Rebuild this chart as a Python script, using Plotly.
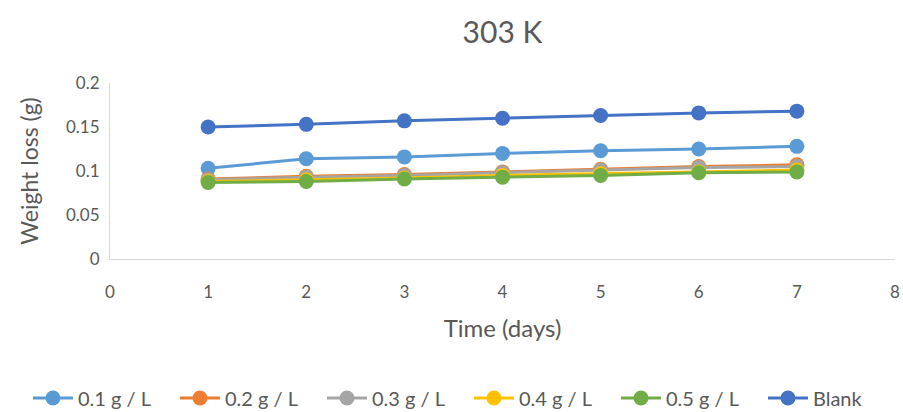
import plotly.graph_objects as go

days = [1, 2, 3, 4, 5, 6, 7]
series_names = ["0.1 g / L", "0.2 g / L", "0.3 g / L", "0.4 g / L", "0.5 g / L", "Blank"]
loss_01 = [0.103, 0.114, 0.116, 0.120, 0.123, 0.125, 0.128]
loss_02 = [0.091, 0.094, 0.096, 0.099, 0.102, 0.105, 0.107]
loss_03 = [0.090, 0.093, 0.095, 0.098, 0.101, 0.104, 0.105]
loss_04 = [0.088, 0.090, 0.092, 0.095, 0.097, 0.099, 0.101]
loss_05 = [0.087, 0.088, 0.091, 0.093, 0.095, 0.098, 0.099]
loss_blank = [0.150, 0.153, 0.157, 0.160, 0.163, 0.166, 0.168]
colors = ["#5B9BD5", "#ED7D31", "#A5A5A5", "#FFC000", "#70AD47", "#4472C4"]

y_ticks = [0, 0.05, 0.1, 0.15, 0.2]
y_tick_text = ["0", "0.05", "0.1", "0.15", "0.2"]
x_ticks = [0, 1, 2, 3, 4, 5, 6, 7, 8]

font_family = "Lato, Open Sans, sans-serif"
text_color = "#595959"
clear = "rgba(0,0,0,0)"

fig = go.Figure()
for name, vals, col in zip(series_names,
                           [loss_01, loss_02, loss_03, loss_04, loss_05, loss_blank],
                           colors):
    fig.add_trace(go.Scatter(
        x=days, y=vals, name=name, mode="lines+markers",
        line=dict(color=col, width=3),
        marker=dict(color=col, size=15),
    ))

fig.update_layout(
    width=903, height=412,
    margin=dict(l=110, r=8, t=83, b=153, autoexpand=False),
    paper_bgcolor="white", plot_bgcolor="white",
    font=dict(family=font_family, color=text_color, size=17),
    title=dict(text="303 K", x=0.5, xanchor="center", xref="paper",
               y=1 - 32 / 412, yanchor="middle", yref="container",
               font=dict(size=30, color=text_color)),
    xaxis=dict(range=[0, 8], tickvals=x_ticks, showgrid=False, zeroline=False,
               showline=True, linecolor="#D9D9D9", linewidth=1,
               ticks="outside", ticklen=18, tickcolor=clear,
               tickfont=dict(size=17, color=text_color),
               title=dict(text="Time (days)", font=dict(size=24, color=text_color), standoff=18)),
    yaxis=dict(range=[0, 0.2], tickvals=y_ticks, ticktext=y_tick_text, showgrid=False,
               zeroline=False, showline=True, linecolor="#D9D9D9", linewidth=1,
               ticks="outside", ticklen=6, tickcolor=clear,
               tickfont=dict(size=17, color=text_color),
               title=dict(text="Weight loss (g)", font=dict(size=23, color=text_color), standoff=20)),
    legend=dict(orientation="h", x=-0.1045, xanchor="left", xref="paper",
                y=-0.79, yanchor="middle", yref="paper",
                font=dict(size=20, color=text_color), itemwidth=40,
                entrywidth=92, entrywidthmode="pixels"),
)

fig.write_html("out.html")
